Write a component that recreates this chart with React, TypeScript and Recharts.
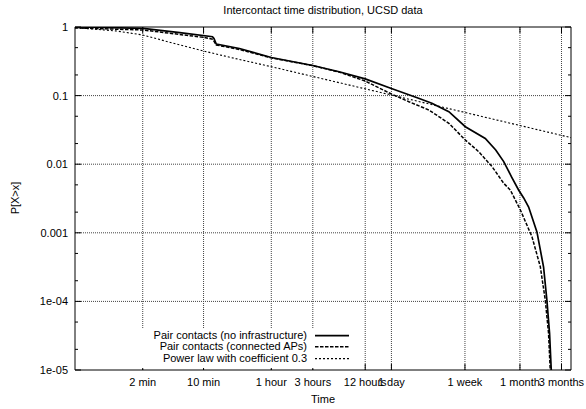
import React from 'react';
import { LineChart, Line, XAxis, YAxis, Legend } from 'recharts';

const FONT = '"Liberation Sans", Arial, Helvetica, sans-serif';

const titleText = 'Intercontact time distribution, UCSD data';
const xLabel = 'Time';
const yLabel = 'P[X>x]';

// x axis (seconds)
const timeTicks = [120, 600, 3600, 10800, 43200, 86400, 604800, 2592000, 7776000];
const timeLabels = ['2 min', '10 min', '1 hour', '3 hours', '12 hours', '1 day', '1 week', '1 month', '3 months'];
const timeDomain = [20, 10000000];

// y axis
const probTicks = [1, 0.1, 0.01, 0.001, 0.0001, 0.00001];
const probLabels = ['1', '0.1', '0.01', '0.001', '1e-04', '1e-05'];
const probMinorTicks = [0.5, 0.2, 0.05, 0.02, 0.005, 0.002, 0.0005, 0.0002, 0.00005, 0.00002];
const probDomain = [0.00001, 1];
const probGrid = [0.1, 0.01, 0.001, 0.0001];

const seriesNames = [
  'Pair contacts (no infrastructure)',
  'Pair contacts (connected APs)',
  'Power law with coefficient 0.3',
];

// Pair contacts (no infrastructure)
const noInfraTime = [20, 39, 121, 320, 760, 790, 840, 1550, 3600, 10800, 21700, 43200, 86400, 174000, 252000, 395000, 611000, 1035000, 1365000, 1686000, 2080000, 2500000, 2860000, 3260000, 4060000, 4840000, 5280000, 5670000, 5930000];
const noInfraProb = [1.0, 0.985, 0.957, 0.826, 0.722, 0.68, 0.565, 0.486, 0.359, 0.275, 0.223, 0.175, 0.127, 0.0923, 0.0773, 0.0582, 0.0352, 0.0237, 0.0161, 0.0109, 0.0065, 0.00421, 0.00322, 0.00238, 0.00103, 0.000317, 0.000105, 0.0000346, 0.00001];

// Pair contacts (connected APs)
const apTime = [20, 121, 590, 768, 840, 1550, 3600, 10800, 21700, 43200, 86400, 137000, 233000, 395000, 611000, 871000, 1240000, 1686000, 2010000, 2620000, 3560000, 4440000, 5060000, 5520000, 5770000];
const apProb = [0.97, 0.904, 0.708, 0.662, 0.547, 0.47, 0.355, 0.273, 0.22, 0.163, 0.1055, 0.0815, 0.0617, 0.0395, 0.0225, 0.0152, 0.0092, 0.00527, 0.0042, 0.00215, 0.000877, 0.00032, 0.000105, 0.0000343, 0.00001];

// Power law with coefficient 0.3
const powerTime = [20, 60, 120, 300, 600, 1200, 3600, 86400, 604800, 10000000];
const powerProb = [0.98, 0.874, 0.765, 0.56, 0.447, 0.362, 0.264, 0.102, 0.0568, 0.0244];

const zip = (ts: number[], ps: number[]) => ts.map((t, i) => ({ t, p: ps[i] }));
const noInfraData = zip(noInfraTime, noInfraProb);
const apData = zip(apTime, apProb);
const powerData = zip(powerTime, powerProb);

// grid lines built from the tick arrays, drawn through the chart scales
const gridVData = timeTicks.map((v) => [{ t: v, p: probDomain[0] }, { t: v, p: probDomain[1] }]);
const gridHData = probGrid.map((v) => [{ t: timeDomain[0], p: v }, { t: timeDomain[1], p: v }]);

const allProbTicks = [...probTicks, ...probMinorTicks].sort((a, b) => a - b);

const seriesStyles = [
  { width: 1.7, dash: undefined as string | undefined },
  { width: 1.5, dash: '3.5 1.5' },
  { width: 1.1, dash: '2 2' },
];

const axisLineStyle = { stroke: '#000' };
const chartMargin = { top: 0, right: 0, bottom: 0, left: 0 };
const legendWrapper = { position: 'absolute' as const, left: 140, top: 329, width: 213, height: 39 };

function BottomTick(props: any) {
  const { x, y, payload } = props;
  const i = timeTicks.indexOf(payload.value);
  return (
    <g>
      <line x1={x} x2={x} y1={y} y2={y - 6} stroke="#000" />
      <text x={x} y={y + 16} textAnchor="middle" fontSize={11} fontFamily={FONT} fill="#000">
        {i >= 0 ? timeLabels[i] : ''}
      </text>
    </g>
  );
}

function TopTick(props: any) {
  const { x, y } = props;
  return <line x1={x} x2={x} y1={y} y2={y + 6} stroke="#000" />;
}

function LeftTick(props: any) {
  const { x, y, payload } = props;
  const i = probTicks.indexOf(payload.value);
  const len = i >= 0 ? 6 : 3;
  return (
    <g>
      <line x1={x} x2={x + len} y1={y} y2={y} stroke="#000" />
      {i >= 0 && (
        <text x={x - 7} y={y + 4} textAnchor="end" fontSize={11} fontFamily={FONT} fill="#000">
          {probLabels[i]}
        </text>
      )}
    </g>
  );
}

function RightTick(props: any) {
  const { x, y, payload } = props;
  const len = probTicks.indexOf(payload.value) >= 0 ? 6 : 3;
  return <line x1={x} x2={x - len} y1={y} y2={y} stroke="#000" />;
}

function LegendBox() {
  return (
    <div style={{ position: 'relative', width: 213, height: 39, background: '#fff', fontFamily: FONT, fontSize: 11, color: '#000' }}>
      {seriesNames.map((name, i) => (
        <div key={name} style={{ position: 'absolute', left: 0, top: 1 + i * 11.3, width: 213, height: 11.3 }}>
          <span style={{ position: 'absolute', right: 46, top: 0, lineHeight: '11.3px', whiteSpace: 'nowrap' }}>{name}</span>
          <svg style={{ position: 'absolute', left: 175, top: 0 }} width={34} height={12}>
            <line x1={0} x2={34} y1={5.65} y2={5.65} stroke="#000" strokeWidth={seriesStyles[i].width} strokeDasharray={seriesStyles[i].dash} />
          </svg>
        </div>
      ))}
    </div>
  );
}

const gridStroke = '#444444';
const gridDash = '1 1';

export default function App() {
  return (
    <div style={{ position: 'absolute', left: 0, top: 0, width: 586, height: 409, background: '#fff', fontFamily: FONT }}>
      <LineChart width={586} height={409} margin={chartMargin}>
        <XAxis
          xAxisId="b"
          orientation="bottom"
          dataKey="t"
          type="number"
          scale="log"
          domain={timeDomain}
          allowDataOverflow
          ticks={timeTicks}
          interval={0}
          tickSize={0}
          tickMargin={0}
          tickLine={false}
          tick={BottomTick}
          height={39}
          axisLine={axisLineStyle}
        />
        <XAxis
          xAxisId="t"
          orientation="top"
          dataKey="t"
          type="number"
          scale="log"
          domain={timeDomain}
          allowDataOverflow
          ticks={timeTicks}
          interval={0}
          tickSize={0}
          tickMargin={0}
          tickLine={false}
          tick={TopTick}
          height={27}
          axisLine={axisLineStyle}
        />
        <YAxis
          yAxisId="l"
          orientation="left"
          type="number"
          scale="log"
          domain={probDomain}
          allowDataOverflow
          ticks={allProbTicks}
          interval={0}
          tickSize={0}
          tickMargin={0}
          tickLine={false}
          tick={LeftTick}
          width={75}
          axisLine={axisLineStyle}
        />
        <YAxis
          yAxisId="r"
          orientation="right"
          type="number"
          scale="log"
          domain={probDomain}
          allowDataOverflow
          ticks={allProbTicks}
          interval={0}
          tickSize={0}
          tickMargin={0}
          tickLine={false}
          tick={RightTick}
          width={15}
          axisLine={axisLineStyle}
        />
        {gridHData.map((d, i) => (
          <Line key={'gh' + i} data={d} dataKey="p" xAxisId="b" yAxisId="l" type="linear" stroke={gridStroke} strokeWidth={1} strokeDasharray={gridDash} dot={false} activeDot={false} legendType="none" isAnimationActive={false} />
        ))}
        {gridVData.map((d, i) => (
          <Line key={'gv' + i} data={d} dataKey="p" xAxisId="b" yAxisId="l" type="linear" stroke={gridStroke} strokeWidth={1} strokeDasharray={gridDash} dot={false} activeDot={false} legendType="none" isAnimationActive={false} />
        ))}
        <Line data={powerData} dataKey="p" xAxisId="b" yAxisId="l" type="linear" name={seriesNames[2]} stroke="#000" strokeWidth={seriesStyles[2].width} strokeDasharray={seriesStyles[2].dash} dot={false} isAnimationActive={false} />
        <Line data={apData} dataKey="p" xAxisId="b" yAxisId="l" type="linear" name={seriesNames[1]} stroke="#000" strokeWidth={seriesStyles[1].width} strokeDasharray={seriesStyles[1].dash} dot={false} isAnimationActive={false} />
        <Line data={noInfraData} dataKey="p" xAxisId="b" yAxisId="l" type="linear" name={seriesNames[0]} stroke="#000" strokeWidth={seriesStyles[0].width} dot={false} isAnimationActive={false} />
        <Legend
          layout="horizontal"
          verticalAlign="middle"
          align="center"
          wrapperStyle={legendWrapper}
          content={LegendBox}
        />
      </LineChart>
      <div style={{ position: 'absolute', left: 75, top: 4, width: 496, textAlign: 'center', fontSize: 11, lineHeight: '13px', color: '#000' }}>
        {titleText}
      </div>
      <div style={{ position: 'absolute', left: 75, top: 392.5, width: 496, textAlign: 'center', fontSize: 11, lineHeight: '13px', color: '#000' }}>
        {xLabel}
      </div>
      <div style={{ position: 'absolute', left: 15, top: 198, transform: 'translate(-50%, -50%) rotate(-90deg)', fontSize: 11, lineHeight: '13px', whiteSpace: 'nowrap', color: '#000' }}>
        {yLabel}
      </div>
    </div>
  );
}
